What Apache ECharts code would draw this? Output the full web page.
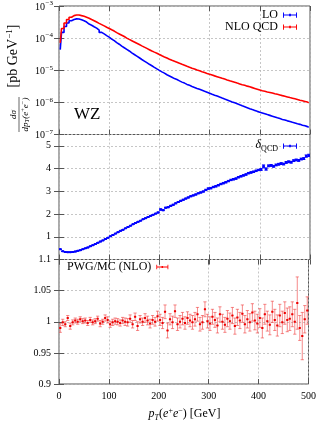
<!DOCTYPE html>
<html><head><meta charset="utf-8">
<script src="https://cdn.jsdelivr.net/npm/echarts@6/dist/echarts.min.js"></script>
<style>html,body{margin:0;padding:0;background:#fff}#c{width:319px;height:421px}</style>
</head><body><div id="c"></div>
<script>
// ---------------- data ----------------
const binCenters = [
  2.5,7.5,12.5,17.5,22.5,27.5,32.5,37.5,42.5,47.5,
  52.5,57.5,62.5,67.5,72.5,77.5,82.5,87.5,92.5,97.5,
  102.5,107.5,112.5,117.5,122.5,127.5,132.5,137.5,142.5,147.5,
  152.5,157.5,162.5,167.5,172.5,177.5,182.5,187.5,192.5,197.5,
  202.5,207.5,212.5,217.5,222.5,227.5,232.5,237.5,242.5,247.5,
  252.5,257.5,262.5,267.5,272.5,277.5,282.5,287.5,292.5,297.5,
  302.5,307.5,312.5,317.5,322.5,327.5,332.5,337.5,342.5,347.5,
  352.5,357.5,362.5,367.5,372.5,377.5,382.5,387.5,392.5,397.5,
  402.5,407.5,412.5,417.5,422.5,427.5,432.5,437.5,442.5,447.5,
  452.5,457.5,462.5,467.5,472.5,477.5,482.5,487.5,492.5,497.5];
const binHalfWidth = 2.5;

const loValues = [
  4.37e-5,1.51e-4,2.29e-4,2.95e-4,3.47e-4,3.80e-4,3.98e-4,3.94e-4,3.72e-4,3.47e-4,
  3.16e-4,2.75e-4,2.51e-4,2.26e-4,2.04e-4,1.78e-4,1.51e-4,1.35e-4,1.20e-4,1.07e-4,
  9.33e-5,8.32e-5,7.24e-5,6.46e-5,5.62e-5,5.01e-5,4.47e-5,3.98e-5,3.47e-5,3.09e-5,
  2.75e-5,2.45e-5,2.16e-5,1.93e-5,1.72e-5,1.53e-5,1.38e-5,1.23e-5,1.10e-5,9.89e-6,
  8.91e-6,8.13e-6,7.24e-6,6.61e-6,6.03e-6,5.50e-6,5.13e-6,4.68e-6,4.27e-6,3.98e-6,
  3.63e-6,3.39e-6,3.13e-6,2.92e-6,2.72e-6,2.54e-6,2.37e-6,2.21e-6,2.07e-6,1.93e-6,
  1.80e-6,1.68e-6,1.57e-6,1.46e-6,1.36e-6,1.27e-6,1.19e-6,1.11e-6,1.035e-6,9.66e-7,
  9.02e-7,8.41e-7,7.85e-7,7.33e-7,6.84e-7,6.38e-7,5.96e-7,5.62e-7,5.25e-7,4.95e-7,
  4.68e-7,4.42e-7,4.17e-7,3.94e-7,3.72e-7,3.51e-7,3.31e-7,3.13e-7,2.95e-7,2.82e-7,
  2.66e-7,2.54e-7,2.40e-7,2.29e-7,2.16e-7,2.07e-7,1.95e-7,1.86e-7,1.76e-7,1.68e-7];

const nloValues = [
  7.08e-5,2.00e-4,2.95e-4,3.80e-4,4.47e-4,5.01e-4,5.25e-4,5.25e-4,5.01e-4,4.79e-4,
  4.47e-4,4.17e-4,3.80e-4,3.47e-4,3.16e-4,2.88e-4,2.63e-4,2.40e-4,2.19e-4,2.00e-4,
  1.82e-4,1.66e-4,1.48e-4,1.35e-4,1.23e-4,1.12e-4,1.00e-4,9.12e-5,8.32e-5,7.59e-5,
  6.92e-5,6.31e-5,5.75e-5,5.25e-5,4.79e-5,4.37e-5,3.98e-5,3.67e-5,3.39e-5,3.09e-5,
  2.82e-5,2.60e-5,2.40e-5,2.21e-5,2.04e-5,1.91e-5,1.78e-5,1.64e-5,1.53e-5,1.43e-5,
  1.33e-5,1.24e-5,1.16e-5,1.10e-5,1.02e-5,9.66e-6,9.02e-6,8.51e-6,7.94e-6,7.50e-6,
  7.08e-6,6.68e-6,6.31e-6,5.96e-6,5.62e-6,5.31e-6,5.01e-6,4.73e-6,4.47e-6,4.22e-6,
  3.98e-6,3.76e-6,3.55e-6,3.39e-6,3.20e-6,3.05e-6,2.88e-6,2.72e-6,2.57e-6,2.43e-6,
  2.29e-6,2.21e-6,2.11e-6,2.04e-6,1.95e-6,1.86e-6,1.78e-6,1.70e-6,1.62e-6,1.55e-6,
  1.48e-6,1.41e-6,1.35e-6,1.29e-6,1.23e-6,1.17e-6,1.12e-6,1.07e-6,1.02e-6,9.77e-7];

const deltaValues = [
  0.45,0.36,0.33,0.32,0.32,0.33,0.35,0.38,0.41,0.45,
  0.49,0.53,0.58,0.63,0.68,0.74,0.79,0.84,0.90,0.96,
  1.02,1.08,1.14,1.20,1.26,1.31,1.37,1.43,1.49,1.55,
  1.61,1.66,1.71,1.77,1.82,1.87,1.92,1.97,2.02,2.07,
  2.20,2.17,2.28,2.30,2.36,2.41,2.47,2.53,2.58,2.63,
  2.68,2.73,2.78,2.82,2.86,2.91,2.95,2.99,3.06,3.12,
  3.14,3.19,3.22,3.27,3.32,3.36,3.40,3.45,3.50,3.53,
  3.56,3.62,3.66,3.70,3.74,3.80,3.83,3.86,3.90,3.94,
  3.96,4.10,3.98,4.12,4.14,4.10,4.16,4.19,4.22,4.20,
  4.27,4.30,4.28,4.35,4.38,4.36,4.42,4.44,4.55,4.58];

const deltaErrors = [
  0.01,0.01,0.01,0.01,0.01,0.01,0.01,0.01,0.01,0.01,
  0.01,0.01,0.01,0.01,0.01,0.01,0.01,0.01,0.01,0.01,
  0.01,0.01,0.01,0.01,0.01,0.01,0.01,0.01,0.01,0.01,
  0.01,0.01,0.01,0.01,0.01,0.01,0.01,0.01,0.01,0.02,
  0.03,0.02,0.02,0.02,0.02,0.02,0.02,0.02,0.02,0.02,
  0.02,0.02,0.02,0.02,0.02,0.02,0.02,0.02,0.03,0.03,
  0.03,0.03,0.03,0.03,0.03,0.03,0.03,0.03,0.03,0.03,
  0.03,0.03,0.03,0.03,0.03,0.03,0.03,0.03,0.03,0.03,
  0.04,0.06,0.05,0.04,0.04,0.04,0.04,0.04,0.04,0.04,
  0.04,0.04,0.04,0.04,0.04,0.04,0.04,0.04,0.05,0.05];

const ratioValues = [
  0.990,0.999,0.996,1.006,0.993,0.999,1.002,1.000,1.004,1.001,
  1.002,0.998,1.003,0.999,1.001,1.005,0.997,1.000,1.006,1.003,
  0.996,0.999,1.001,1.000,0.998,1.002,1.000,0.999,1.005,0.996,
  1.008,0.993,1.004,1.000,1.006,1.002,0.997,1.003,1.000,1.009,
  1.003,0.998,1.016,0.986,1.004,0.999,1.017,0.996,1.000,1.005,
  0.998,1.006,1.002,0.999,1.004,1.012,0.996,0.999,1.020,1.001,
  0.997,1.008,1.003,0.994,1.012,1.000,0.995,1.005,1.001,1.010,
  0.993,1.007,1.002,1.013,0.996,1.004,0.999,1.015,1.002,0.997,
  1.006,0.990,1.012,1.001,0.995,1.016,1.003,0.994,1.010,0.999,
  1.014,1.003,1.005,1.012,1.000,1.030,0.990,0.977,1.004,1.018];

const ratioErrors = [
  0.007,0.005,0.004,0.004,0.005,0.004,0.004,0.004,0.004,0.004,
  0.004,0.004,0.004,0.004,0.004,0.004,0.005,0.004,0.005,0.005,
  0.005,0.005,0.005,0.005,0.005,0.005,0.006,0.006,0.006,0.006,
  0.006,0.007,0.006,0.006,0.007,0.007,0.007,0.007,0.007,0.008,
  0.009,0.009,0.011,0.012,0.009,0.010,0.010,0.010,0.010,0.010,
  0.010,0.010,0.010,0.011,0.011,0.011,0.011,0.011,0.012,0.011,
  0.011,0.012,0.012,0.012,0.012,0.012,0.012,0.013,0.013,0.013,
  0.013,0.013,0.013,0.014,0.014,0.014,0.014,0.014,0.015,0.015,
  0.015,0.016,0.016,0.016,0.016,0.017,0.017,0.017,0.018,0.018,
  0.018,0.019,0.019,0.020,0.020,0.042,0.020,0.038,0.022,0.022];

const seriesNames = ['LO', 'NLO QCD', 'δQCD', 'PWG/MC (NLO)'];

// ---------------- chart ----------------
const FONT = 'Liberation Serif';
const BLUE = '#0000ff', RED = '#ff0000';
const chart = echarts.init(document.getElementById('c'), null, {renderer: 'canvas'});

const grids = [
  {left: 59, right: 9, top: 5.5, height: 129},
  {left: 59, right: 9, top: 134.5, height: 125},
  {left: 59, right: 9, top: 259.5, height: 124.5}
].map(g => Object.assign(g, {show: true, borderColor: '#555', borderWidth: 1}));

const tickStyle = {show: true, inside: true, length: 5, lineStyle: {color: '#555', width: 1}};
const splitStyle = {show: true, lineStyle: {color: '#b8b8b8', type: [2, 2], width: 0.8}};

const xAxes = [];
for (let i = 0; i < 3; i++) {
  xAxes.push({
    type: 'value', gridIndex: i, min: 0, max: 500, interval: 100, position: 'bottom',
    axisLine: {show: false}, axisTick: tickStyle, splitLine: splitStyle,
    axisLabel: {show: i === 2, margin: 7, color: '#000', fontFamily: FONT, fontSize: 10}
  });
  xAxes.push({
    type: 'value', gridIndex: i, min: 0, max: 500, interval: 100, position: 'top',
    axisLine: {show: false}, axisTick: tickStyle, splitLine: {show: false}, axisLabel: {show: false}
  });
}

const logLabel = v => {
  const e = Math.round(Math.log10(v));
  return '{b|10}{s|' + (e < 0 ? '−' : '') + Math.abs(e) + '}';
};
const yAxes = [
  {type: 'log', logBase: 10, gridIndex: 0, min: 1e-7, max: 1e-3, position: 'left',
   axisLine: {show: false}, axisTick: tickStyle, splitLine: splitStyle,
   axisLabel: {margin: 6, formatter: logLabel, color: '#000',
     rich: {b: {fontFamily: FONT, fontSize: 10, color: '#000', lineHeight: 12, verticalAlign: 'bottom'},
            s: {fontFamily: FONT, fontSize: 7, color: '#000', lineHeight: 12, verticalAlign: 'top', padding: [0, 0, 0, 0.5]}}}},
  {type: 'log', logBase: 10, gridIndex: 0, min: 1e-7, max: 1e-3, position: 'right',
   axisLine: {show: false}, axisTick: tickStyle, splitLine: {show: false}, axisLabel: {show: false}},
  {type: 'value', gridIndex: 1, min: 0, max: 5.5, interval: 1, position: 'left',
   axisLine: {show: false}, axisTick: tickStyle, splitLine: splitStyle,
   axisLabel: {margin: 8, color: '#000', fontFamily: FONT, fontSize: 10, showMaxLabel: false,
     formatter: v => ((v < 0.5 || v > 5.2) ? '' : String(v))}},
  {type: 'value', gridIndex: 1, min: 0, max: 5.5, interval: 1, position: 'right',
   axisLine: {show: false}, axisTick: tickStyle, splitLine: {show: false}, axisLabel: {show: false}},
  {type: 'value', gridIndex: 2, min: 0.9, max: 1.1, interval: 0.05, position: 'left',
   axisLine: {show: false}, axisTick: tickStyle, splitLine: splitStyle,
   axisLabel: {margin: 8, color: '#000', fontFamily: FONT, fontSize: 10, showMinLabel: true, showMaxLabel: true,
     formatter: v => String(+v.toFixed(2))}},
  {type: 'value', gridIndex: 2, min: 0.9, max: 1.1, interval: 0.05, position: 'right',
   axisLine: {show: false}, axisTick: tickStyle, splitLine: {show: false}, axisLabel: {show: false}}
];

function errRenderer(barColor, pointColor, barWidth) {
  return function (params, api) {
    const x = api.value(0), y = api.value(1), lo = api.value(2), hi = api.value(3);
    const c = api.coord([x, y]);
    const l = api.coord([x - binHalfWidth, y]);
    const r = api.coord([x + binHalfWidth, y]);
    const a = api.coord([x, lo]);
    const b = api.coord([x, hi]);
    const ls = {stroke: barColor, lineWidth: barWidth};
    const cap = 1.6;
    return {type: 'group', children: [
      {type: 'line', shape: {x1: l[0], y1: l[1], x2: r[0], y2: r[1]}, style: ls},
      {type: 'line', shape: {x1: a[0], y1: a[1], x2: b[0], y2: b[1]}, style: {stroke: barColor, lineWidth: 1}},
      {type: 'line', shape: {x1: a[0] - cap, y1: a[1], x2: a[0] + cap, y2: a[1]}, style: {stroke: barColor, lineWidth: 1}},
      {type: 'line', shape: {x1: b[0] - cap, y1: b[1], x2: b[0] + cap, y2: b[1]}, style: {stroke: barColor, lineWidth: 1}},
      {type: 'rect', shape: {x: c[0] - 1, y: c[1] - 1, width: 2, height: 2}, style: {fill: pointColor}}
    ]};
  };
}

const loData = binCenters.map((x, i) => [x, loValues[i]]);
const nloData = binCenters.map((x, i) => [x, nloValues[i]]);
const deltaData = binCenters.map((x, i) => [x, deltaValues[i], deltaValues[i] - deltaErrors[i], deltaValues[i] + deltaErrors[i]]);
const ratioData = binCenters.map((x, i) => [x, ratioValues[i], ratioValues[i] - ratioErrors[i], ratioValues[i] + ratioErrors[i]]);

const errIcon = 'path://M0,3.4H16V4.6H0Z M0,1H1.1V7H0Z M14.9,1H16V7H14.9Z M7,2.6H9V5.4H7Z';
const legText = {fontFamily: FONT, fontSize: 12, color: '#000', lineHeight: 12};

const option = {
  animation: false,
  backgroundColor: '#fff',
  grid: grids,
  xAxis: xAxes,
  yAxis: yAxes,
  legend: [
    {data: [seriesNames[0], seriesNames[1]], orient: 'vertical', right: 22, top: 9, align: 'right',
     itemWidth: 14, itemHeight: 7, itemGap: 0, icon: errIcon, selectedMode: false, textStyle: legText, padding: 0},
    {data: [seriesNames[2]], orient: 'vertical', right: 22, top: 139, align: 'right',
     itemWidth: 14, itemHeight: 7, icon: errIcon, selectedMode: false, padding: 0,
     formatter: () => '{d|δ}{q|QCD}',
     textStyle: Object.assign({}, legText, {rich: {
       d: {fontFamily: FONT, fontSize: 12, fontStyle: 'italic', color: '#000', lineHeight: 14, verticalAlign: 'top'},
       q: {fontFamily: FONT, fontSize: 8, color: '#000', lineHeight: 14, verticalAlign: 'bottom'}}})},
    {data: [seriesNames[3]], orient: 'vertical', left: 67, top: 261, align: 'right',
     itemWidth: 12, itemHeight: 7, icon: errIcon, selectedMode: false, textStyle: legText, padding: 0}
  ],
  series: [
    {name: seriesNames[0], type: 'line', xAxisIndex: 0, yAxisIndex: 0, data: loData, step: 'middle',
     showSymbol: false, lineStyle: {color: BLUE, width: 1.6}, itemStyle: {color: BLUE}, z: 3},
    {name: seriesNames[1], type: 'line', xAxisIndex: 0, yAxisIndex: 0, data: nloData, step: 'middle',
     showSymbol: false, lineStyle: {color: RED, width: 1.6}, itemStyle: {color: RED}, z: 4},
    {name: seriesNames[2], type: 'custom', xAxisIndex: 2, yAxisIndex: 2, data: deltaData,
     encode: {x: 0, y: [1, 2, 3]}, renderItem: errRenderer(BLUE, BLUE, 1.4), itemStyle: {color: BLUE}, clip: true},
    {name: seriesNames[3], type: 'custom', xAxisIndex: 4, yAxisIndex: 4, data: ratioData,
     encode: {x: 0, y: [1, 2, 3]}, renderItem: errRenderer('rgba(240,60,60,0.6)', '#ee0000', 1), itemStyle: {color: RED}, clip: true}
  ],
  graphic: [
    {type: 'text', left: 74, top: 106, style: {text: 'WZ', fontFamily: FONT, fontSize: 17, fill: '#000'}},
    {type: 'group', x: 19, y: 75, rotation: Math.PI / 2, children: [
      {type: 'text', x: 19, y: -5.5, style: {text: '[pb GeV{s|−1}]', fontFamily: FONT, fontSize: 14, fill: '#000',
        align: 'center', verticalAlign: 'middle',
        rich: {s: {fontFamily: FONT, fontSize: 9, fill: '#000', verticalAlign: 'top', lineHeight: 16}}}},
      {type: 'line', shape: {x1: -57, y1: 0, x2: -22, y2: 0}, style: {stroke: '#000', lineWidth: 0.6}},
      {type: 'text', x: -39.5, y: -0.8, style: {text: 'dσ', fontFamily: FONT, fontSize: 9, fontStyle: 'italic', fill: '#000',
        align: 'center', verticalAlign: 'bottom'}},
      {type: 'text', x: -39.5, y: 0.8, style: {text: '{i|dp}{s|T}(e{u|+}e{u|−})', fontFamily: FONT, fontSize: 9, fontStyle: 'italic', fill: '#000',
        align: 'center', verticalAlign: 'top',
        rich: {i: {fontFamily: FONT, fontSize: 9, fontStyle: 'italic', lineHeight: 11},
               s: {fontFamily: FONT, fontSize: 6.5, fontStyle: 'italic', verticalAlign: 'bottom', lineHeight: 11},
               u: {fontFamily: FONT, fontSize: 6.5, verticalAlign: 'top', lineHeight: 11}}}}
    ]},
    {type: 'text', x: 184.5, y: 414, style: {text: '{i|p}{s|T}({i|e}{u|+}{i|e}{u|−}) [GeV]', fontFamily: FONT, fontSize: 12, fill: '#000',
      align: 'center', verticalAlign: 'middle',
      rich: {i: {fontFamily: FONT, fontSize: 12, fontStyle: 'italic', lineHeight: 15},
             s: {fontFamily: FONT, fontSize: 8, fontStyle: 'italic', verticalAlign: 'bottom', lineHeight: 15},
             u: {fontFamily: FONT, fontSize: 8, verticalAlign: 'top', lineHeight: 15}}}}
  ]
};
chart.setOption(option);
</script>
</body></html>
